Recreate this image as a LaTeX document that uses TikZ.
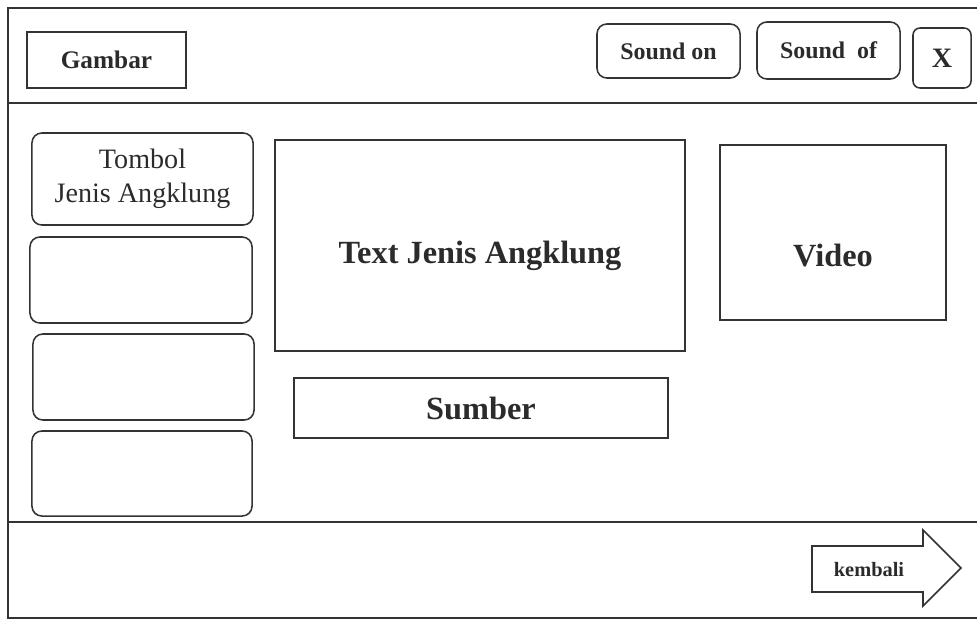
\documentclass[tikz,border=0pt]{standalone}
\usepackage{fontspec}
\setmainfont{Liberation Serif}
\usepackage{tikz}
\usetikzlibrary{positioning}
\definecolor{WFInk}{HTML}{333333}
\definecolor{WFText}{HTML}{2B2B2B}

\begin{document}
\begin{tikzpicture}[x=0.025cm,y=-0.025cm,
 frame/.style={draw=WFInk,line width=1.2pt},
 box/.style={draw=WFInk,line width=1.1pt,align=center,text=WFText,font=\bfseries\fontsize{23}{27}\selectfont},
 btn/.style={box,rounded corners=7pt,font=\bfseries\fontsize{17}{20}\selectfont},
 side/.style={btn,font=\fontsize{20}{24}\selectfont}]
\useasboundingbox (0,0) rectangle (977,620);
% outer frame, header and footer
\draw[frame] (980,8) -- (8,8) -- (8,618) -- (980,618);
\draw[frame] (8,103) -- (980,103);
\draw[frame] (8,522) -- (980,522);
% header
\node[box,font=\bfseries\fontsize{18}{21}\selectfont,minimum width=3.975cm,minimum height=1.4cm] (gambar) at (106.5,60) {Gambar};
\node[btn,minimum width=3.575cm,minimum height=1.35cm] (soundon) at (668.5,51) {Sound on};
\node[btn,minimum width=3.575cm,minimum height=1.425cm] (soundof) at (828.5,50.5) {Sound\ \ of};
\node[btn,rounded corners=5pt,font=\bfseries\fontsize{20}{24}\selectfont,minimum width=1.45cm,minimum height=1.5cm] (tutup) at (942,58) {X};
% left menu
\node[side,minimum width=5.525cm,minimum height=2.3cm] (tombol1) at (142.5,179) {Tombol\\Jenis Angklung};
\node[side,minimum width=5.55cm,minimum height=2.15cm] (tombol2) at (141,280) {};
\node[side,minimum width=5.525cm,minimum height=2.15cm] (tombol3) at (143.5,377) {};
\node[side,minimum width=5.5cm,minimum height=2.125cm] (tombol4) at (142,473.5) {};
% content
\node[box,text height=25.8pt,text depth=0pt,minimum width=10.25cm,minimum height=5.275cm] (teks) at (480,245.5) {Text Jenis Angklung};
\node[box,text height=48.6pt,text depth=0pt,minimum width=5.65cm,minimum height=4.375cm] (video) at (833,232.5) {Video};
\node[box,minimum width=9.35cm,minimum height=1.5cm] (sumber) at (481,408) {Sumber};
% footer arrow
\draw[draw=WFInk,line width=1.1pt] (812,546) -- (923,546) -- (923,530) -- (961,568) -- (923,606) -- (923,592) -- (812,592) -- cycle;
\node[text=WFText,font=\bfseries\fontsize{14.5}{17}\selectfont] (kembali) at (869,570) {kembali};
\end{tikzpicture}
\end{document}
